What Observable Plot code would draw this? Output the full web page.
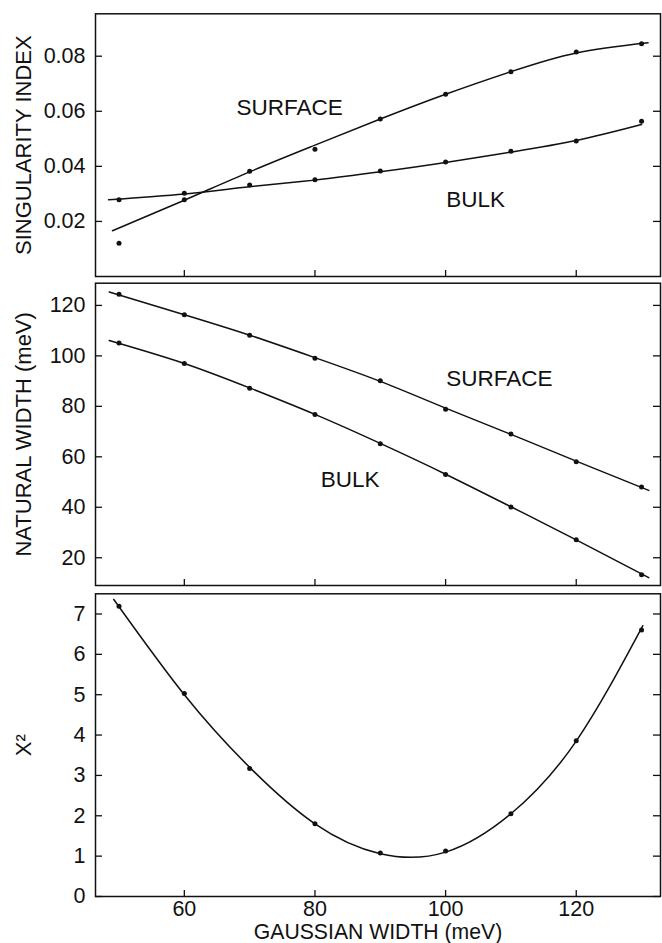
<!DOCTYPE html>
<html>
<head>
<meta charset="utf-8">
<script src="https://cdn.jsdelivr.net/npm/d3@7"></script>
<script src="https://cdn.jsdelivr.net/npm/@observablehq/plot@0.6"></script>
<style>
  html, body { margin: 0; padding: 0; background: #fff; }
  #chart > * { display: block; }
</style>
</head>
<body>
<div id="chart"></div>
<script>
// ---- data ----
const gaussX = [50, 60, 70, 80, 90, 100, 110, 120, 130];
const xTicks = [60, 80, 100, 120];

// Panel 1: singularity index
const siSurface = [0.0121, 0.0279, 0.0382, 0.0462, 0.0572, 0.0662, 0.0744, 0.0815, 0.0845];
const siBulk    = [0.0279, 0.0302, 0.0332, 0.0351, 0.0383, 0.0416, 0.0455, 0.0492, 0.0564];
const siSurfaceFitX = [49, 60, 70, 80, 90, 100, 110, 120, 131];
const siSurfaceFit  = [0.0166, 0.0277, 0.0380, 0.0477, 0.0572, 0.0662, 0.0744, 0.0812, 0.0849];
const siBulkFitX = [48.4, 60, 70, 80, 90, 100, 110, 120, 130];
const siBulkFit  = [0.0279, 0.0300, 0.0326, 0.0350, 0.0380, 0.0414, 0.0452, 0.0494, 0.0552];
const siTicks = [0.02, 0.04, 0.06, 0.08];

// Panel 2: natural width (meV)
const nwSurface = [124.4, 116.3, 108.2, 99.1, 90.1, 78.8, 69.0, 58.0, 48.0];
const nwBulk    = [105.1, 97.0, 87.2, 76.8, 65.2, 53.0, 40.1, 27.1, 13.3];
const nwFitX = [48.5, 60, 70, 80, 90, 100, 110, 120, 131.1];
const nwSurfaceFit = [125.3, 116.3, 108.2, 99.3, 89.9, 79.3, 68.9, 58.3, 46.7];
const nwBulkFit    = [106.1, 97.0, 87.3, 76.8, 65.3, 53.1, 40.2, 27.1, 12.1];
const nwTicks = [20, 40, 60, 80, 100, 120];

// Panel 3: chi-square
const chi = [7.19, 5.03, 3.17, 1.80, 1.08, 1.13, 2.05, 3.86, 6.60];
const chiFitX = [49.2, 60, 70, 80, 90, 100, 110, 120, 130.2];
const chiFit  = [7.36, 5.0, 3.2, 1.8, 1.06, 1.1, 2.05, 3.85, 6.71];
const chiTicks = [0, 1, 2, 3, 4, 5, 6, 7];

// labels
const panelLabels1 = [{x: 68, y: 0.0612, t: "SURFACE"}, {x: 100.1, y: 0.0278, t: "BULK"}];
const panelLabels2 = [{x: 100.1, y: 90.9, t: "SURFACE"}, {x: 80.9, y: 50.9, t: "BULK"}];

// ---- helpers ----
const pts = (xs, ys) => xs.map((x, i) => ({x, y: ys[i]}));
const FONT = "'Liberation Sans', Arial, Helvetica, sans-serif";
const W = 662, ML = 95, MR = 2;
const PW = W - ML - MR;
const xDomain = [46.4, 132.9];
const TICK = 7;

function panel({height, marginTop, marginBottom, yDomain, yTicks, yFormat, yLabel, lines, dots, labels, bottomLabels}) {
  const PH = height - marginTop - marginBottom;
  const marks = [
    // inward ticks left, right, bottom
    Plot.tickY(yTicks, {y: d => d, insetRight: PW - TICK, stroke: "#111", strokeWidth: 1.3}),
    Plot.tickY(yTicks, {y: d => d, insetLeft: PW - TICK, stroke: "#111", strokeWidth: 1.3}),
    Plot.tickX(xTicks, {x: d => d, insetTop: PH - 6, stroke: "#111", strokeWidth: 1.3}),
    Plot.frame({stroke: "#111", strokeWidth: 1.5}),
    Plot.axisY({ticks: yTicks, anchor: "left", tickSize: 0, tickPadding: 10, tickFormat: yFormat, label: null, fill: "#111"}),
    Plot.text([yLabel], {frameAnchor: "left", dx: -72, rotate: -90, textAnchor: "middle", lineAnchor: "middle", fontSize: 22, fill: "#111"})
  ];
  if (bottomLabels) {
    marks.push(Plot.axisX({ticks: xTicks, anchor: "bottom", tickSize: 0, tickPadding: 4, label: null, fill: "#111"}));
    marks.push(Plot.text(["GAUSSIAN WIDTH (meV)"], {frameAnchor: "bottom", dy: 42, lineAnchor: "bottom", fontSize: 21.2, fill: "#111"}));
  } else {
    marks.push(Plot.axisX({ticks: xTicks, tickSize: 0, tickFormat: () => "", label: null}));
  }
  for (const l of lines) marks.push(Plot.line(l, {x: "x", y: "y", curve: "natural", stroke: "#111", strokeWidth: 1.5}));
  for (const d of dots) marks.push(Plot.dot(d, {x: "x", y: "y", r: 2.5, fill: "#111", stroke: "none"}));
  if (labels) marks.push(Plot.text(labels, {x: "x", y: "y", text: "t", textAnchor: "start", fontSize: 22.5, fill: "#111"}));
  return Plot.plot({
    width: W,
    height,
    marginLeft: ML,
    marginRight: MR,
    marginTop,
    marginBottom,
    x: {domain: xDomain},
    y: {domain: yDomain},
    style: {fontFamily: FONT, fontSize: "21.5px", background: "#fff", color: "#111", overflow: "visible"},
    marks
  });
}

const chart = document.getElementById("chart");

chart.append(panel({
  height: 279, marginTop: 13.3, marginBottom: 3,
  yDomain: [0, 0.0954], yTicks: siTicks, yFormat: d3.format(".2f"),
  yLabel: "SINGULARITY INDEX",
  lines: [pts(siSurfaceFitX, siSurfaceFit), pts(siBulkFitX, siBulkFit)],
  dots: [pts(gaussX, siSurface), pts(gaussX, siBulk)],
  labels: panelLabels1
}));

chart.append(panel({
  height: 308, marginTop: 3.7, marginBottom: 2,
  yDomain: [9, 128.8], yTicks: nwTicks, yFormat: d3.format("d"),
  yLabel: "NATURAL WIDTH (meV)",
  lines: [pts(nwFitX, nwSurfaceFit), pts(nwFitX, nwBulkFit)],
  dots: [pts(gaussX, nwSurface), pts(gaussX, nwBulk)],
  labels: panelLabels2
}));

chart.append(panel({
  height: 356, marginTop: 6.3, marginBottom: 47,
  yDomain: [0, 7.5], yTicks: chiTicks, yFormat: d3.format("d"),
  yLabel: "X\u00B2",
  lines: [pts(chiFitX, chiFit)],
  dots: [pts(gaussX, chi)],
  labels: null,
  bottomLabels: true
}));
</script>
</body>
</html>
